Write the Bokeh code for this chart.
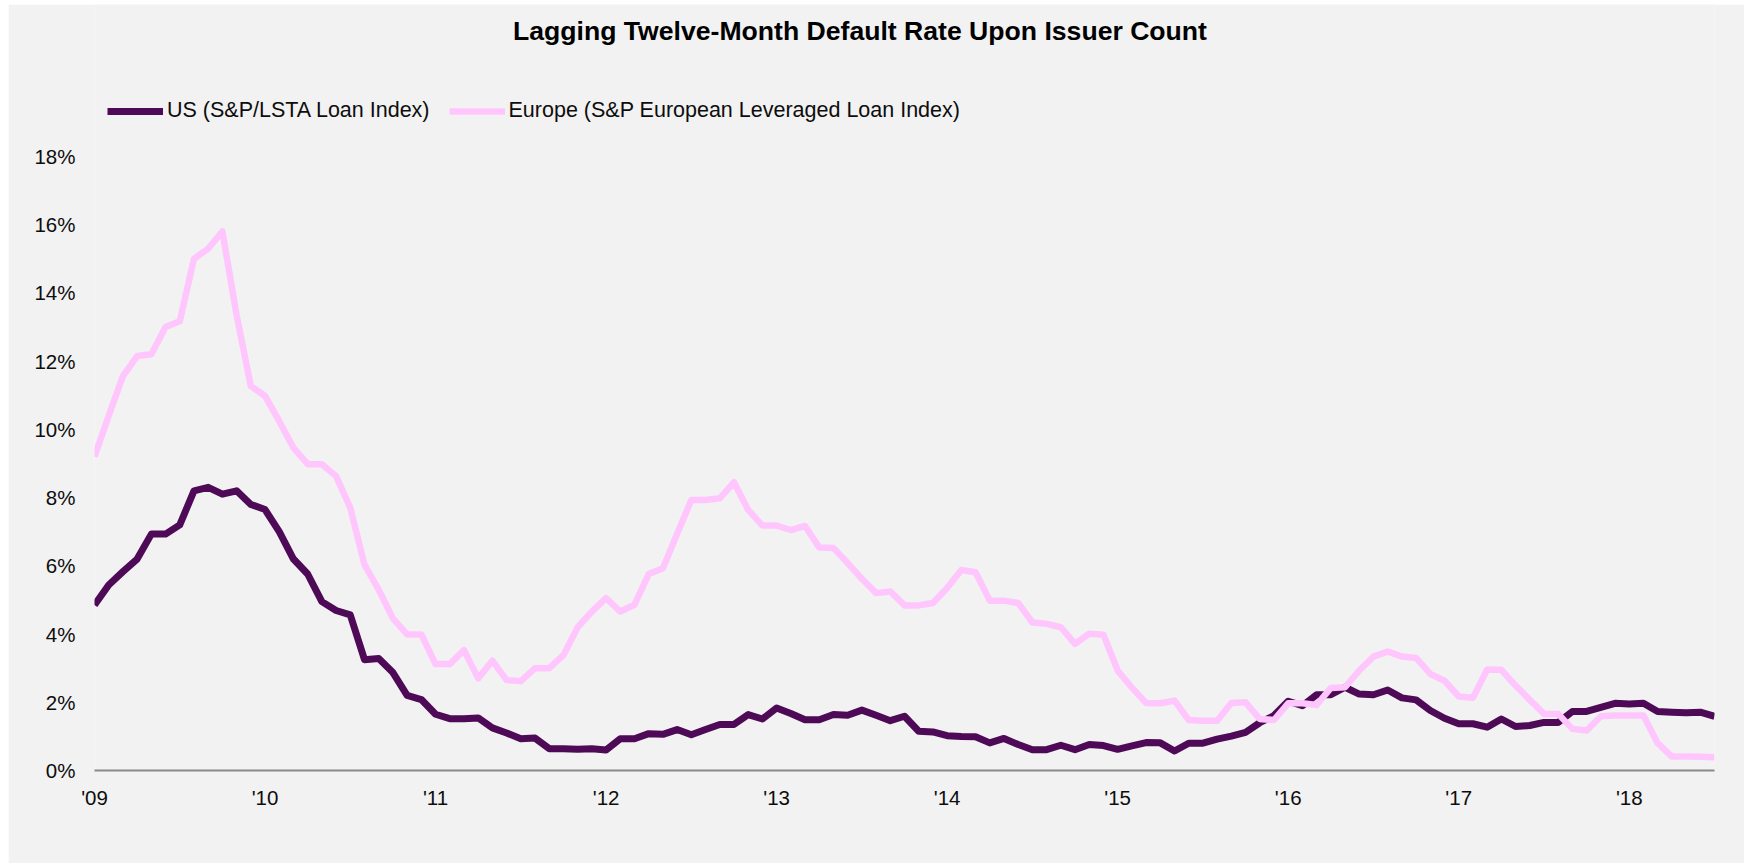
from bokeh.plotting import figure
from bokeh.models import (Range1d, FixedTicker, Label, Legend, LegendItem,
                          PrintfTickFormatter)
from bokeh.embed import file_html
from bokeh.resources import INLINE

# Lagging twelve-month default rate by issuer count, monthly Jan 2009 - Jul 2018 (%)
year_labels = ["'09", "'10", "'11", "'12", "'13", "'14", "'15", "'16", "'17", "'18"]

us_rate = [
    4.85, 5.44, 5.83, 6.20, 6.93, 6.93, 7.20, 8.20, 8.30, 8.10, 8.20, 7.80,   # 2009
    7.65, 7.00, 6.20, 5.76, 4.95, 4.69, 4.56, 3.25, 3.28, 2.87, 2.20, 2.08,   # 2010
    1.65, 1.52, 1.52, 1.54, 1.25, 1.10, 0.93, 0.95, 0.64, 0.64, 0.62, 0.64,   # 2011
    0.60, 0.93, 0.93, 1.08, 1.06, 1.20, 1.05, 1.20, 1.35, 1.35, 1.64, 1.51,   # 2012
    1.83, 1.67, 1.49, 1.49, 1.64, 1.62, 1.77, 1.62, 1.46, 1.59, 1.15, 1.13,   # 2013
    1.02, 1.00, 0.99, 0.81, 0.94, 0.76, 0.61, 0.61, 0.74, 0.61, 0.76, 0.73,   # 2014
    0.62, 0.72, 0.82, 0.81, 0.57, 0.80, 0.80, 0.92, 1.01, 1.12, 1.40, 1.61,   # 2015
    2.03, 1.90, 2.22, 2.22, 2.44, 2.24, 2.22, 2.36, 2.13, 2.07, 1.76, 1.53,   # 2016
    1.37, 1.37, 1.27, 1.51, 1.29, 1.32, 1.41, 1.41, 1.73, 1.73, 1.85, 1.97,   # 2017
    1.95, 1.97, 1.73, 1.71, 1.69, 1.71, 1.59,                                 # 2018
]

europe_rate = [
    9.20, 10.40, 11.56, 12.15, 12.20, 13.00, 13.17, 15.00, 15.30, 15.80, 13.35, 11.27,  # 2009
    10.98, 10.24, 9.46, 8.98, 8.98, 8.63, 7.70, 6.03, 5.30, 4.46, 3.99, 3.99,           # 2010
    3.12, 3.12, 3.53, 2.70, 3.22, 2.65, 2.62, 3.00, 3.00, 3.38, 4.20, 4.66,             # 2011
    5.05, 4.66, 4.86, 5.76, 5.93, 6.94, 7.93, 7.93, 7.98, 8.45, 7.64, 7.18,             # 2012
    7.18, 7.05, 7.17, 6.54, 6.52, 6.08, 5.62, 5.20, 5.25, 4.84, 4.84, 4.91,             # 2013
    5.35, 5.88, 5.81, 4.98, 4.98, 4.91, 4.34, 4.30, 4.20, 3.71, 4.01, 3.98,             # 2014
    2.93, 2.43, 1.98, 1.97, 2.05, 1.48, 1.46, 1.46, 1.98, 2.00, 1.51, 1.48,             # 2015
    1.97, 1.97, 1.92, 2.42, 2.44, 2.93, 3.34, 3.49, 3.34, 3.30, 2.83, 2.63,             # 2016
    2.17, 2.13, 2.96, 2.95, 2.49, 2.07, 1.66, 1.66, 1.22, 1.17, 1.59, 1.61,             # 2017
    1.61, 1.61, 0.80, 0.41, 0.41, 0.40, 0.39,                                           # 2018
]

series_names = ["US (S&P/LSTA Loan Index)", "Europe (S&P European Leveraged Loan Index)"]
title_text = "Lagging Twelve-Month Default Rate Upon Issuer Count"

months = list(range(len(us_rate)))
y_ticks = list(range(0, 19, 2))

BG = "#F2F2F2"
US_COLOR = "#4E0A57"
EU_COLOR = "#FFC6FD"
FONT = "Liberation Sans"

W, H = 1736, 859
LEFT, RIGHT, BOTTOM = 86, 30, 93
PX_PER_PCT = 614 / 18          # vertical scale: 2% every ~68 px

frame_w = W - LEFT - RIGHT
frame_h = H - BOTTOM           # frame runs to the top so the header sits inside it
y_max = frame_h / PX_PER_PCT
px_per_month = frame_w / (len(months) - 1)

p = figure(width=W, height=H, output_backend="svg", toolbar_location=None,
           x_range=Range1d(0, len(months) - 1), y_range=Range1d(0, y_max),
           min_border_left=LEFT, min_border_right=RIGHT,
           min_border_top=0, min_border_bottom=BOTTOM)
p.margin = (4, 0, 0, 8)
p.background_fill_color = BG
p.border_fill_color = BG
p.outline_line_color = None
p.xgrid.grid_line_color = None
p.ygrid.grid_line_color = None

# x axis: one label per January
p.xaxis.ticker = FixedTicker(ticks=[12 * i for i in range(len(year_labels))])
p.xaxis.major_label_overrides = {12 * i: lab for i, lab in enumerate(year_labels)}
p.xaxis.axis_line_color = "#898989"
p.xaxis.axis_line_width = 2
p.xaxis.major_tick_line_color = None
p.xaxis.minor_tick_line_color = None
p.xaxis.major_label_standoff = 9
p.xaxis.major_label_text_font = FONT
p.xaxis.major_label_text_font_size = "20.5px"
p.xaxis.major_label_text_color = "#0D0D0D"

# y axis: percent labels 0-18%, no line
p.yaxis.ticker = FixedTicker(ticks=y_ticks)
p.yaxis.formatter = PrintfTickFormatter(format="%d%%")
p.yaxis.axis_line_color = None
p.yaxis.major_tick_line_color = None
p.yaxis.minor_tick_line_color = None
p.yaxis.major_label_standoff = 13
p.yaxis.major_label_text_font = FONT
p.yaxis.major_label_text_font_size = "20.5px"
p.yaxis.major_label_text_color = "#0D0D0D"

r_us = p.line(months, us_rate, line_color=US_COLOR, line_width=7, line_join="round")
r_eu = p.line(months, europe_rate, line_color=EU_COLOR, line_width=6.5, line_join="round")

legend = Legend(items=[LegendItem(label=series_names[0], renderers=[r_us]),
                       LegendItem(label=series_names[1], renderers=[r_eu])],
                orientation="horizontal", location=(13, 647),
                glyph_width=56, glyph_height=24, label_height=24,
                label_standoff=4, spacing=19, padding=0, margin=0,
                border_line_color=None, background_fill_alpha=0,
                label_text_font=FONT, label_text_font_size="21.5px",
                label_text_color="#0D0D0D")
p.add_layout(legend, "center")

# centred bold title in the header band
title_x = (859.5 - 8 - LEFT) / px_per_month
title_y = (frame_h - (30.5 - 4)) / PX_PER_PCT
p.add_layout(Label(x=title_x, y=title_y, text=title_text, text_align="center",
                   text_baseline="alphabetic", text_font=FONT, text_font_size="26.6px",
                   text_font_style="bold", text_color="#000000"))

open("out.html", "w").write(file_html(p, INLINE))
